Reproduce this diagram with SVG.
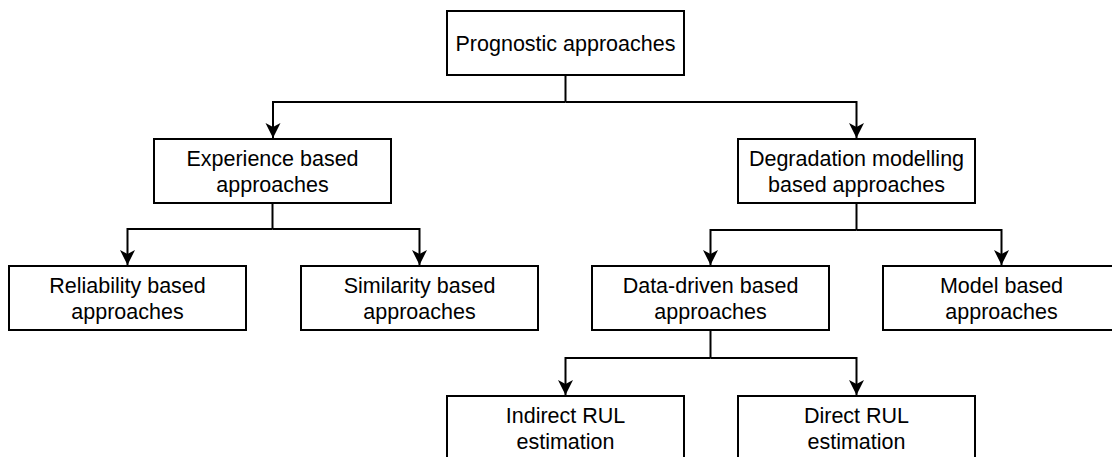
<svg xmlns="http://www.w3.org/2000/svg" width="1112" height="457" viewBox="0 0 1112 457">
  <style>
    .box { fill: #ffffff; stroke: #000000; stroke-width: 2; }
    .lbl { font-family: "Liberation Sans", Arial, Helvetica, sans-serif; font-size: 21.5px; fill: #000000; text-anchor: middle; }
    .edge { fill: none; stroke: #000000; stroke-width: 2; }
  </style>
  <defs>
    <marker id="arrow" markerUnits="userSpaceOnUse" markerWidth="16" markerHeight="16" viewBox="0 0 16 16" refX="15" refY="8" orient="auto">
      <path d="M0,0.5 L15,8 L0,15.5 L4,8 Z" fill="#000000"/>
    </marker>
  </defs>
  <rect width="1112" height="457" fill="#ffffff"/>

  <g id="connectors">
    <path class="edge" d="M565.5,75 V102"/>
    <path class="edge" d="M565.5,102 H273 V138" marker-end="url(#arrow)"/>
    <path class="edge" d="M565.5,102 H856.5 V138" marker-end="url(#arrow)"/>
    <path class="edge" d="M272.5,203 V229"/>
    <path class="edge" d="M272.5,229 H127.5 V265" marker-end="url(#arrow)"/>
    <path class="edge" d="M272.5,229 H419.5 V265" marker-end="url(#arrow)"/>
    <path class="edge" d="M856.5,203 V230"/>
    <path class="edge" d="M856.5,230 H710.5 V265" marker-end="url(#arrow)"/>
    <path class="edge" d="M856.5,230 H1001.5 V265" marker-end="url(#arrow)"/>
    <path class="edge" d="M710.5,330 V358"/>
    <path class="edge" d="M710.5,358 H565.5 V395" marker-end="url(#arrow)"/>
    <path class="edge" d="M710.5,358 H856.5 V395" marker-end="url(#arrow)"/>
  </g>

  <g id="node-prognostic">
    <rect class="box" x="447" y="11" width="237" height="64"/>
    <text class="lbl" x="565.5" y="51">Prognostic approaches</text>
  </g>
  <g id="node-experience">
    <rect class="box" x="154" y="139" width="237" height="64"/>
    <text class="lbl" x="272.5" y="166">Experience based</text>
    <text class="lbl" x="272.5" y="192">approaches</text>
  </g>
  <g id="node-degradation">
    <rect class="box" x="738" y="139" width="237" height="64"/>
    <text class="lbl" x="856.5" y="166">Degradation modelling</text>
    <text class="lbl" x="856.5" y="192">based approaches</text>
  </g>
  <g id="node-reliability">
    <rect class="box" x="9" y="266" width="237" height="64"/>
    <text class="lbl" x="127.5" y="293">Reliability based</text>
    <text class="lbl" x="127.5" y="319">approaches</text>
  </g>
  <g id="node-similarity">
    <rect class="box" x="301" y="266" width="237" height="64"/>
    <text class="lbl" x="419.5" y="293">Similarity based</text>
    <text class="lbl" x="419.5" y="319">approaches</text>
  </g>
  <g id="node-datadriven">
    <rect class="box" x="592" y="266" width="237" height="64"/>
    <text class="lbl" x="710.5" y="293">Data-driven based</text>
    <text class="lbl" x="710.5" y="319">approaches</text>
  </g>
  <g id="node-model">
    <rect class="box" x="883" y="266" width="237" height="64"/>
    <text class="lbl" x="1001.5" y="293">Model based</text>
    <text class="lbl" x="1001.5" y="319">approaches</text>
  </g>
  <g id="node-indirect">
    <rect class="box" x="447" y="396" width="237" height="64"/>
    <text class="lbl" x="565.5" y="423">Indirect RUL</text>
    <text class="lbl" x="565.5" y="449">estimation</text>
  </g>
  <g id="node-direct">
    <rect class="box" x="738" y="396" width="237" height="64"/>
    <text class="lbl" x="856.5" y="423">Direct RUL</text>
    <text class="lbl" x="856.5" y="449">estimation</text>
  </g>
</svg>
